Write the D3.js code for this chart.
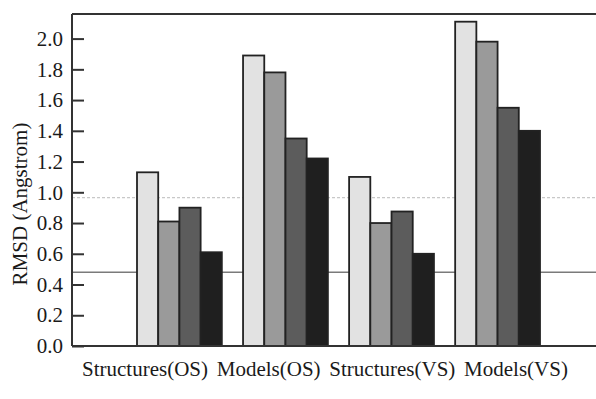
<!DOCTYPE html>
<html>
<head>
<meta charset="utf-8">
<script src="https://cdn.jsdelivr.net/npm/d3@7"></script>
<style>
  body { margin: 0; background: #fff; }
  text { font-family: "Liberation Serif", "DejaVu Serif", serif; fill: #1a1a1a; }
</style>
</head>
<body>
<div id="chart"></div>
<script>
// data
const categories = ['Structures(OS)', 'Models(OS)', 'Structures(VS)', 'Models(VS)'];
const seriesNames = ['s1', 's2', 's3', 's4'];
const series1 = [1.13, 1.89, 1.10, 2.11];
const series2 = [0.81, 1.78, 0.80, 1.98];
const series3 = [0.90, 1.35, 0.875, 1.55];
const series4 = [0.61, 1.22, 0.60, 1.40];
const yTicks = [0.0, 0.2, 0.4, 0.6, 0.8, 1.0, 1.2, 1.4, 1.6, 1.8, 2.0];
const refLines = [0.965, 0.48];

const fills = ['#e2e2e2', '#9a9a9a', '#5c5c5c', '#1f1f1f'];

const W = 596, H = 399;
const mLeft = 72, mTop = 14, mBottom = 346, mRight = 600;

const svg = d3.select('#chart').append('svg')
  .attr('width', W)
  .attr('height', H);

const y = d3.scaleLinear().domain([0, 2.16]).range([mBottom, mTop]);

const x0 = d3.scaleBand()
  .domain(categories)
  .range([137, 540])
  .paddingInner(0.2)
  .paddingOuter(0);

const x1 = d3.scaleBand()
  .domain(seriesNames)
  .range([0, x0.bandwidth()])
  .padding(0);

// label positions are spread evenly, not centred on groups
const xl = d3.scalePoint().domain(categories).range([145, 516]);

// reference lines behind the bars
svg.selectAll('.ref')
  .data(refLines)
  .enter()
  .append('line')
  .attr('x1', mLeft)
  .attr('x2', mRight)
  .attr('y1', d => y(d))
  .attr('y2', d => y(d))
  .attr('stroke', (d, i) => i === 0 ? '#c8c8c8' : '#7a7a7a')
  .attr('stroke-width', (d, i) => i === 0 ? 1.2 : 1.5)
  .attr('stroke-dasharray', (d, i) => i === 0 ? '3,2' : null);

const rows = categories.map((c, i) => ({
  cat: c,
  vals: [series1[i], series2[i], series3[i], series4[i]]
}));

const groups = svg.selectAll('.grp')
  .data(rows)
  .enter()
  .append('g')
  .attr('transform', d => `translate(${x0(d.cat)},0)`);

groups.selectAll('rect')
  .data(d => d.vals.map((v, j) => ({ key: seriesNames[j], v, j })))
  .enter()
  .append('rect')
  .attr('x', d => x1(d.key))
  .attr('y', d => y(d.v))
  .attr('width', x1.bandwidth())
  .attr('height', d => y(0) - y(d.v))
  .attr('fill', d => fills[d.j])
  .attr('stroke', '#222')
  .attr('stroke-width', 1.8);

// frame: left axis, top and bottom lines
svg.append('line').attr('x1', mLeft).attr('x2', mRight).attr('y1', mTop).attr('y2', mTop)
  .attr('stroke', '#333').attr('stroke-width', 2);
svg.append('line').attr('x1', mLeft).attr('x2', mRight).attr('y1', mBottom).attr('y2', mBottom)
  .attr('stroke', '#333').attr('stroke-width', 2);

const yAxis = svg.append('g')
  .attr('transform', `translate(${mLeft},0)`)
  .call(d3.axisLeft(y).tickValues(yTicks).tickFormat(d3.format('.1f')).tickSizeInner(-12).tickSizeOuter(0).tickPadding(9));

yAxis.select('.domain').attr('stroke', '#333').attr('stroke-width', 2)
  .attr('d', `M0,${mTop}V${mBottom}`);
yAxis.selectAll('.tick line').attr('stroke', '#333').attr('stroke-width', 2);
yAxis.selectAll('.tick text')
  .attr('x', -9)
  .attr('font-size', 21)
  .attr('font-family', '"Liberation Serif", serif')
  .attr('fill', '#1a1a1a');

// category labels
svg.selectAll('.cat')
  .data(categories)
  .enter()
  .append('text')
  .attr('x', d => xl(d))
  .attr('y', 376)
  .attr('text-anchor', 'middle')
  .attr('font-size', 21)
  .text(d => d);

// y title
svg.append('text')
  .attr('transform', `translate(27,204) rotate(-90)`)
  .attr('text-anchor', 'middle')
  .attr('font-size', 21)
  .text('RMSD (Angstrom)');
</script>
</body>
</html>
